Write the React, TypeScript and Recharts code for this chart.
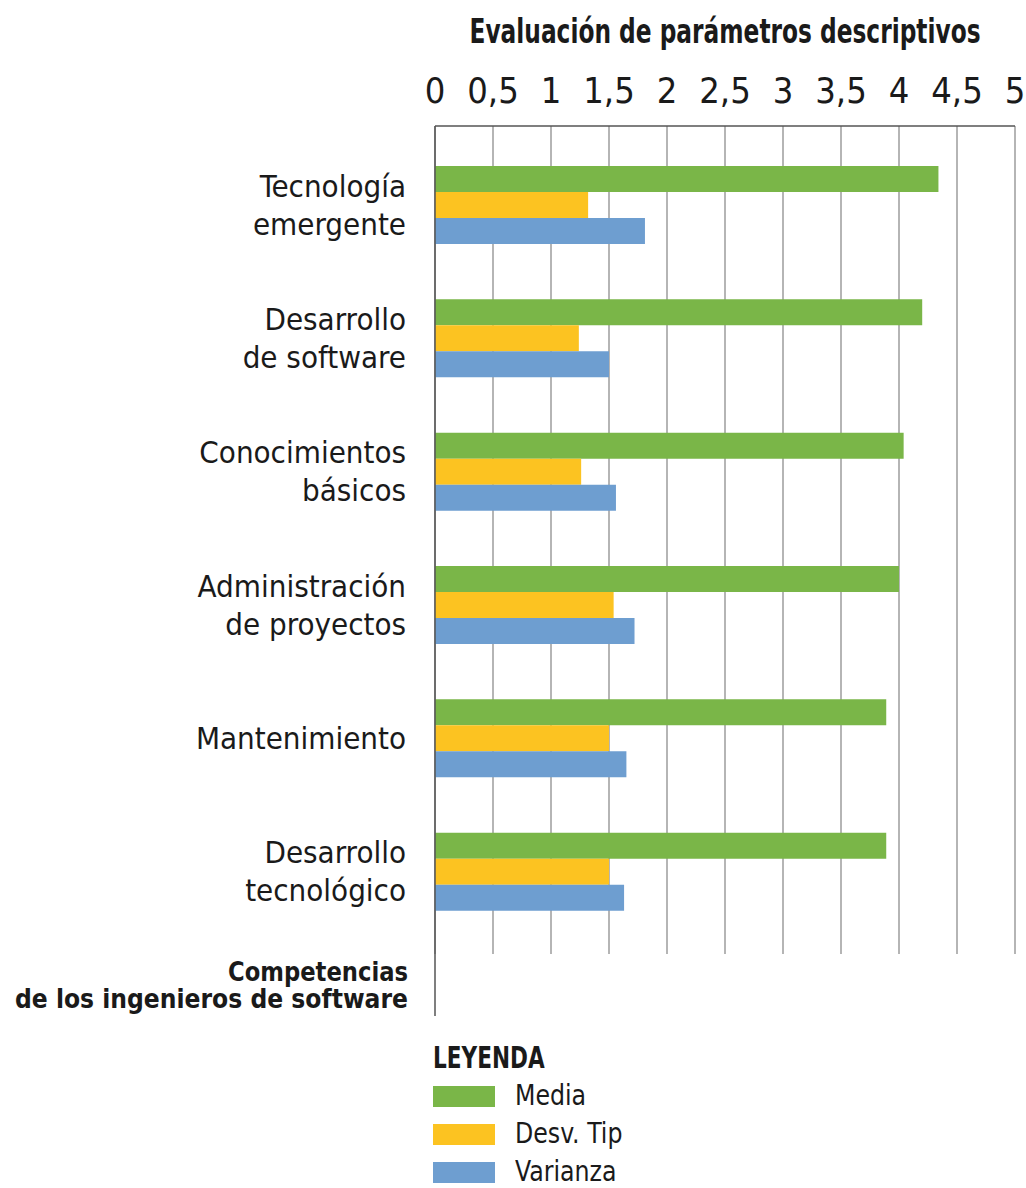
import React from "react";
import {
  BarChart,
  Bar,
  XAxis,
  YAxis,
  CartesianGrid,
  Legend,
} from "recharts";

// categories (top to bottom) and the three descriptive parameters
const categories = [
  "Tecnología emergente",
  "Desarrollo de software",
  "Conocimientos básicos",
  "Administración de proyectos",
  "Mantenimiento",
  "Desarrollo tecnológico",
];
const media = [4.34, 4.2, 4.04, 4.0, 3.89, 3.89];
const desvTip = [1.32, 1.24, 1.26, 1.54, 1.5, 1.5];
const varianza = [1.81, 1.5, 1.56, 1.72, 1.65, 1.63];
const xTicks = [0, 0.5, 1, 1.5, 2, 2.5, 3, 3.5, 4, 4.5, 5];
const seriesNames = ["Media", "Desv. Tip", "Varianza"];

const FONT = '"DejaVu Sans Condensed", "DejaVu Sans", sans-serif';
const TEXT = "#1a1a1a";
const GREEN = "#7ab648";
const YELLOW = "#fcc321";
const BLUE = "#6e9ed0";

const W = 1026;
const H = 1188;
const PLOT_TOP = 126;
const GRID_BOTTOM = 954;

const chartData = categories.map((name, i) => ({
  name,
  media: media[i],
  desv: desvTip[i],
  varianza: varianza[i],
}));

// category labels split in two lines at the first space
const CategoryTick = (props: any) => {
  const { x, y, payload } = props;
  const text: string = payload.value;
  const idx = text.indexOf(" ");
  const lines =
    text === "Mantenimiento" || idx < 0
      ? [text]
      : [text.slice(0, idx), text.slice(idx + 1)];
  const lh = 38;
  const start = -((lines.length - 1) * lh) / 2;
  return (
    <text
      x={x - 27}
      y={y}
      textAnchor="end"
      fontFamily={FONT}
      fontSize={31}
      fill={TEXT}
    >
      {lines.map((l, i) => (
        <tspan key={i} x={x - 27} y={y + start + i * lh} dy="0.36em">
          {l}
        </tspan>
      ))}
    </text>
  );
};

// bold condensed title, squeezed horizontally like the original
const XTitle = (props: any) => {
  const { viewBox } = props;
  const cx = viewBox.x + viewBox.width / 2;
  return (
    <g transform={`translate(${cx}, ${viewBox.y + 43}) scale(0.785, 1)`}>
      <text
        x={0}
        y={0}
        textAnchor="middle"
        fontFamily={FONT}
        fontSize={33}
        fontWeight="bold"
        fill={TEXT}
      >
        Evaluación de parámetros descriptivos
      </text>
    </g>
  );
};

const YTitle = (props: any) => {
  const { viewBox } = props;
  const right = viewBox.x + viewBox.width - 27;
  const bottom = viewBox.y + viewBox.height;
  const common = {
    textAnchor: "end" as const,
    fontFamily: FONT,
    fontSize: 26,
    fontWeight: "bold",
    fill: TEXT,
    lengthAdjust: "spacingAndGlyphs" as const,
  };
  return (
    <g>
      <text {...common} x={right} y={bottom - 35} textLength={180}>
        Competencias
      </text>
      <text {...common} x={right} y={bottom - 8} textLength={393}>
        de los ingenieros de software
      </text>
    </g>
  );
};

const renderLegend = (props: any) => {
  const payload = [...(props.payload || [])].sort(
    (a: any, b: any) => seriesNames.indexOf(a.value) - seriesNames.indexOf(b.value)
  );
  return (
    <div style={{ fontFamily: FONT, color: TEXT }}>
      <div
        style={{
          fontSize: 30,
          fontWeight: "bold",
          lineHeight: "28px",
          height: 28,
          transform: "scaleX(0.8)",
          transformOrigin: "left center",
        }}
      >
        LEYENDA
      </div>
      {payload.map((entry: any) => (
        <div
          key={entry.value}
          style={{
            display: "flex",
            alignItems: "center",
            height: 28,
            marginTop: 10,
          }}
        >
          <span
            style={{
              display: "inline-block",
              width: 62,
              height: 21,
              background: entry.color,
              marginRight: 20,
            }}
          />
          <span
            style={{
              fontSize: 28,
              lineHeight: "28px",
              display: "inline-block",
              transform: "scaleX(0.94)",
              transformOrigin: "left center",
            }}
          >
            {entry.value}
          </span>
        </div>
      ))}
    </div>
  );
};

export default function App() {
  return (
    <div style={{ position: "absolute", left: 0, top: 0, background: "#fff" }}>
      <BarChart
        width={W}
        height={H}
        data={chartData}
        layout="vertical"
        margin={{ top: 0, right: 11, bottom: 172, left: 0 }}
        barGap={0}
        barSize={26}
      >
        <CartesianGrid
          horizontal={false}
          stroke="#9c9c9c"
          strokeWidth={1.5}
          y={PLOT_TOP}
          height={GRID_BOTTOM - PLOT_TOP}
        />
        <XAxis
          type="number"
          orientation="top"
          domain={[0, 5]}
          ticks={xTicks}
          height={PLOT_TOP}
          axisLine={{ stroke: "#555", strokeWidth: 1.5 }}
          tickLine={false}
          tickSize={0}
          tickMargin={23}
          tickFormatter={(v: number) => String(v).replace(".", ",")}
          tick={{ fontFamily: FONT, fontSize: 36, fill: TEXT }}
          label={{ content: <XTitle /> }}
        />
        <YAxis
          type="category"
          dataKey="name"
          width={435}
          padding={{ top: 12, bottom: 78 }}
          axisLine={{ stroke: "#555", strokeWidth: 1.5 }}
          tickLine={false}
          tickSize={0}
          tick={<CategoryTick />}
          interval={0}
          label={{ content: <YTitle /> }}
        />
        <Legend
          content={renderLegend}
          layout="horizontal"
          align="center"
          verticalAlign="middle"
          wrapperStyle={{ left: 433, top: 1044, width: "auto" }}
        />
        <Bar dataKey="media" name="Media" fill={GREEN} isAnimationActive={false} />
        <Bar dataKey="desv" name="Desv. Tip" fill={YELLOW} isAnimationActive={false} />
        <Bar dataKey="varianza" name="Varianza" fill={BLUE} isAnimationActive={false} />
      </BarChart>
    </div>
  );
}
